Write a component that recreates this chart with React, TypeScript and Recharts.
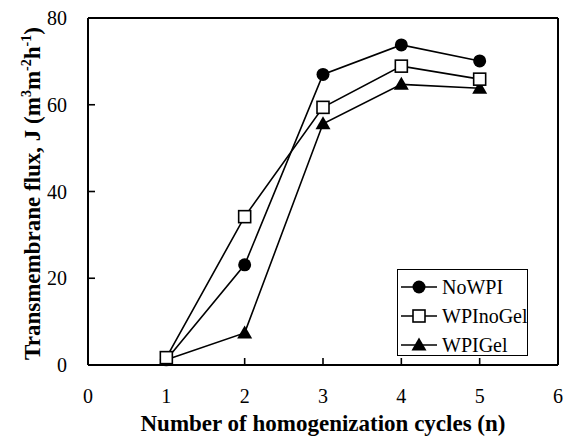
import React from 'react';
import { LineChart, Line, XAxis, YAxis, ReferenceLine, Legend, Label } from 'recharts';

const cycles = [1, 2, 3, 4, 5];
const noWPI = [1.2, 23.1, 67.0, 73.8, 70.1];
const wpiNoGel = [1.7, 34.2, 59.4, 68.9, 65.9];
const wpiGel = [1.2, 7.4, 55.6, 64.7, 63.8];
const xTicks = [0, 1, 2, 3, 4, 5, 6];
const yTicks = [0, 20, 40, 60, 80];
const seriesNames = ['NoWPI', 'WPInoGel', 'WPIGel'];
const xTitle = 'Number of homogenization cycles (n)';

const data = cycles.map((c, i) => ({ n: c, NoWPI: noWPI[i], WPInoGel: wpiNoGel[i], WPIGel: wpiGel[i] }));

const FONT = '"Liberation Serif", "Times New Roman", serif';

const CircleDot = (p: any) => (p.cx == null ? null : <circle key={p.key} cx={p.cx} cy={p.cy} r={6.5} fill="#000" />);
const SquareDot = (p: any) =>
  p.cx == null ? null : (
    <rect key={p.key} x={p.cx - 6} y={p.cy - 6} width={12} height={12} fill="#fff" stroke="#000" strokeWidth={1.6} />
  );
const TriDot = (p: any) =>
  p.cx == null ? null : (
    <polygon
      key={p.key}
      points={`${p.cx},${p.cy - 7.5} ${p.cx - 7.5},${p.cy + 5.5} ${p.cx + 7.5},${p.cy + 5.5}`}
      fill="#000"
    />
  );

const markerFor = (name: string, cx: number, cy: number) => {
  if (name === 'NoWPI') return <CircleDot cx={cx} cy={cy} />;
  if (name === 'WPInoGel') return <SquareDot cx={cx} cy={cy} />;
  return <TriDot cx={cx} cy={cy} />;
};

const LegendBox = () => (
  <svg width={131} height={87} style={{ display: 'block' }}>
    <rect x={0.5} y={0.5} width={130} height={86} fill="#fff" stroke="#000" strokeWidth={1} />
    {seriesNames.map((name, i) => {
      const cy = 18 + i * 29;
      return (
        <g key={name}>
          <line x1={4} x2={40} y1={cy} y2={cy} stroke="#000" strokeWidth={1.6} />
          {markerFor(name, 22, cy)}
          <text x={45} y={cy} dy="0.35em" fontFamily={FONT} fontSize={20} fill="#000">
            {name}
          </text>
        </g>
      );
    })}
  </svg>
);

const YTitle = (props: any) => {
  const vb = props.viewBox || { x: 0, y: 18, width: 88, height: 347 };
  const cx = vb.x + 40;
  const cy = vb.y + vb.height / 2 + 2;
  return (
    <text
      x={cx}
      y={cy}
      transform={`rotate(-90, ${cx}, ${cy})`}
      textAnchor="middle"
      fontFamily={FONT}
      fontWeight="bold"
      fontSize={23}
      fill="#000"
    >
      <tspan>Transmembrane flux, J (m</tspan>
      <tspan dy={-9} fontSize={14}>3</tspan>
      <tspan dy={9}>m</tspan>
      <tspan dy={-9} fontSize={14}>-2</tspan>
      <tspan dy={9}>h</tspan>
      <tspan dy={-9} fontSize={14}>-1</tspan>
      <tspan dy={9}>)</tspan>
    </text>
  );
};

const XTitle = (props: any) => {
  const vb = props.viewBox || { x: 88, y: 365, width: 470, height: 72 };
  return (
    <text
      x={vb.x + vb.width / 2}
      y={vb.y + 66}
      textAnchor="middle"
      fontFamily={FONT}
      fontWeight="bold"
      fontSize={23}
      fill="#000"
    >
      {xTitle}
    </text>
  );
};

export default function App() {
  return (
    <div style={{ position: 'absolute', left: 0, top: 0, background: '#fff' }}>
      <LineChart width={564} height={437} data={data} margin={{ top: 18, right: 6, left: 0, bottom: 0 }}>
        <XAxis
          dataKey="n"
          type="number"
          domain={[0, 6]}
          ticks={xTicks}
          interval={0}
          height={72}
          tickSize={-7}
          tickMargin={31}
          axisLine={{ stroke: '#000', strokeWidth: 2 }}
          tickLine={{ stroke: '#000', strokeWidth: 1.6 }}
          tick={{ fill: '#000', fontSize: 20, fontFamily: FONT }}
        >
          <Label content={<XTitle />} />
        </XAxis>
        <YAxis
          type="number"
          domain={[0, 80]}
          ticks={yTicks}
          interval={0}
          width={88}
          tickSize={-7}
          tickMargin={28}
          axisLine={{ stroke: '#000', strokeWidth: 2 }}
          tickLine={{ stroke: '#000', strokeWidth: 1.6 }}
          tick={{ fill: '#000', fontSize: 20, fontFamily: FONT }}
        >
          <Label content={<YTitle />} />
        </YAxis>
        <ReferenceLine y={80} stroke="#000" strokeWidth={2} />
        <ReferenceLine x={6} stroke="#000" strokeWidth={2} />
        <Line
          dataKey="WPIGel"
          stroke="#000"
          strokeWidth={1.6}
          dot={<TriDot />}
          activeDot={false}
          isAnimationActive={false}
        />
        <Line
          dataKey="NoWPI"
          stroke="#000"
          strokeWidth={1.6}
          dot={<CircleDot />}
          activeDot={false}
          isAnimationActive={false}
        />
        <Line
          dataKey="WPInoGel"
          stroke="#000"
          strokeWidth={1.6}
          dot={<SquareDot />}
          activeDot={false}
          isAnimationActive={false}
        />
        <Legend
          layout="vertical"
          align="center"
          verticalAlign="middle"
          content={<LegendBox />}
          wrapperStyle={{ position: 'absolute', left: 397, top: 269, width: 131, height: 87 }}
        />
      </LineChart>
    </div>
  );
}
